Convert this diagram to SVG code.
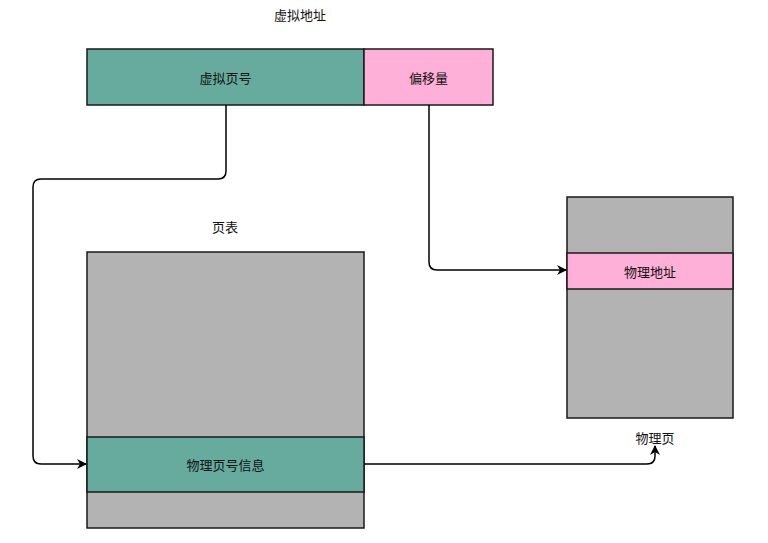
<svg xmlns="http://www.w3.org/2000/svg" width="768" height="543" viewBox="0 0 768 543">
<defs>
<style>
.box{stroke:#1a1a1a;stroke-width:1.5}
.g{fill:#67AB9F}
.p{fill:#FFB0D8}
.gr{fill:#B3B3B3}
text{font-family:"Noto Sans CJK SC","Noto Sans",sans-serif;font-size:13px;fill:#111;text-anchor:middle;dominant-baseline:central}
.c{fill:none;stroke:#000;stroke-width:1.5}
</style>
<marker id="a" viewBox="0 0 10 10" refX="9" refY="5" markerWidth="10" markerHeight="10" markerUnits="userSpaceOnUse" orient="auto">
<path d="M0,0 L10,5 L0,10 L3,5 Z" fill="#000"/>
</marker>
</defs>
<rect width="768" height="543" fill="#fff"/>
<g id="title-va"><text x="300" y="14">虚拟地址</text></g>
<g id="vpn"><rect class="box g" x="87" y="49" width="277" height="56"/><text x="225.5" y="77">虚拟页号</text></g>
<g id="offset"><rect class="box p" x="364" y="49" width="129" height="56"/><text x="428.5" y="77">偏移量</text></g>
<g id="title-pt"><text x="225" y="226">页表</text></g>
<g id="pagetable">
<rect class="box gr" x="87" y="252" width="277" height="276"/>
<rect class="box g" x="87" y="437" width="277" height="55"/>
<text x="225.5" y="464.5">物理页号信息</text>
</g>
<g id="physpage">
<rect class="box gr" x="567" y="197" width="166" height="221"/>
<rect class="box p" x="567" y="253" width="166" height="36"/>
<text x="650" y="271">物理地址</text>
</g>
<g id="title-pp"><text x="655" y="437.5">物理页</text></g>
<g id="connectors">
<path class="c" d="M226,105 V171 Q226,179 218,179 H41 Q33,179 33,187 V456 Q33,464 41,464 H86" marker-end="url(#a)"/>
<path class="c" d="M429,105 V262 Q429,270 437,270 H566" marker-end="url(#a)"/>
<path class="c" d="M364,464 H647 Q655,464 655,456 V446" marker-end="url(#a)"/>
</g>
</svg>
